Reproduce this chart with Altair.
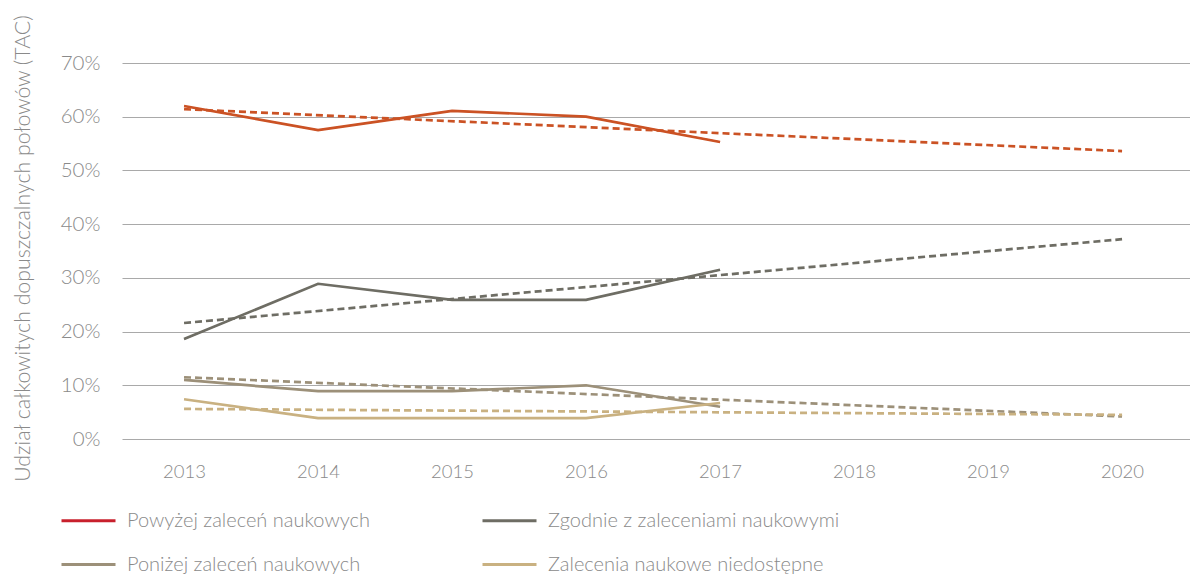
import altair as alt
import pandas as pd

categories = [
    "Powyżej zaleceń naukowych",
    "Zgodnie z zaleceniami naukowymi",
    "Poniżej zaleceń naukowych",
    "Zalecenia naukowe niedostępne",
]
line_colors = ["#CB5224", "#6E6D64", "#9C9079", "#C9B181"]
legend_colors = ["#C8202C", "#6E6D64", "#9C9079", "#C9B181"]

years = [2013, 2014, 2015, 2016, 2017]
actual = {
    "Powyżej zaleceń naukowych": [62.0, 57.5, 61.1, 60.0, 55.3],
    "Zgodnie z zaleceniami naukowymi": [18.6, 28.9, 25.9, 25.9, 31.5],
    "Poniżej zaleceń naukowych": [11.0, 8.9, 8.9, 10.0, 6.0],
    "Zalecenia naukowe niedostępne": [7.4, 3.9, 3.9, 3.9, 6.7],
}
trend_years = [2013, 2020]
trend = {
    "Powyżej zaleceń naukowych": [61.4, 53.6],
    "Zgodnie z zaleceniami naukowymi": [21.6, 37.2],
    "Poniżej zaleceń naukowych": [11.5, 4.2],
    "Zalecenia naukowe niedostępne": [5.6, 4.5],
}
year_ticks = [2013, 2014, 2015, 2016, 2017, 2018, 2019, 2020]
pct_ticks = [0, 10, 20, 30, 40, 50, 60, 70]

rows_a = [{"cat": c, "year": y, "v": v} for c in categories for y, v in zip(years, actual[c])]
rows_t = [{"cat": c, "year": y, "v": v} for c in categories for y, v in zip(trend_years, trend[c])]
df_a = pd.DataFrame(rows_a)
df_t = pd.DataFrame(rows_t)

FONT = "Lato"
GRAY = "#8a8a8a"

x = alt.X(
    "year:Q",
    scale=alt.Scale(domain=[2012.537, 2020.507], nice=False, zero=False),
    axis=alt.Axis(
        values=year_ticks, format="d", title=None, grid=False, domain=False,
        ticks=False, tickSize=0, labelPadding=23, labelFontSize=18.5,
        labelColor=GRAY, labelFont=FONT, labelFontWeight=300,
    ),
)
y = alt.Y(
    "v:Q",
    scale=alt.Scale(domain=[0, 70], nice=False),
    axis=alt.Axis(
        values=pct_ticks, labelExpr="datum.value + '%'",
        title="Udział całkowitych dopuszczalnych połowów (TAC)",
        titleFont=FONT, titleFontSize=21.3, titleFontWeight=300, titleColor=GRAY,
        titleAngle=-90, titleX=-99, titleY=185, titleAlign="center",
        titleBaseline="middle",
        grid=True, gridColor="#a9a9a9", gridWidth=1, domain=False,
        ticks=False, tickSize=0, labelPadding=22, labelFontSize=20.5,
        labelColor=GRAY, labelFont=FONT, labelFontWeight=300,
    ),
)
color = alt.Color("cat:N", scale=alt.Scale(domain=categories, range=line_colors), legend=None)

legend_layer = alt.Chart(df_a).mark_line(strokeWidth=1.2).encode(
    x=x, y=y,
    stroke=alt.Stroke(
        "cat:N",
        scale=alt.Scale(domain=categories, range=legend_colors),
        legend=alt.Legend(
            title=None, orient="none", legendX=-62, legendY=429,
            direction="horizontal",
            columns=2, columnPadding=106, rowPadding=5,
            symbolType="stroke", symbolSize=2916, symbolStrokeWidth=3,
            symbolOpacity=1, labelOffset=10, labelFontSize=20,
            labelFont=FONT, labelFontWeight=300, labelColor=GRAY,
            labelLimit=400,
        ),
    ),
)
solid = alt.Chart(df_a).mark_line(strokeWidth=2.7).encode(x=x, y=y, color=color)
dashed = alt.Chart(df_t).mark_line(strokeWidth=2.7, strokeDash=[7, 4]).encode(x=x, y=y, color=color)

chart = (
    alt.layer(legend_layer, solid, dashed)
    .properties(
        width=1068, height=376,
        autosize=alt.AutoSizeParams(type="none"),
        padding={"left": 114, "top": 55, "right": 0, "bottom": 137},
    )
    .configure_view(stroke=None)
)
chart.save("out.html", embed_options={"renderer": "svg", "actions": False})
